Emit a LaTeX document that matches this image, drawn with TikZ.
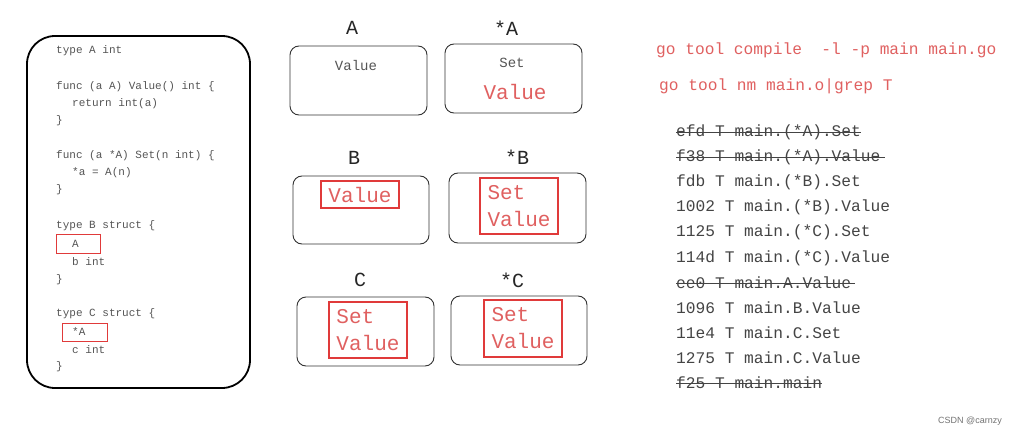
\documentclass[tikz,border=0pt]{standalone}
\usepackage{fontspec}
\setmonofont{Liberation Mono}
\setsansfont{Liberation Sans}
\begin{document}
\begin{tikzpicture}[x=1pt,y=-1pt]
\definecolor{codegray}{HTML}{555555}
\definecolor{txtgray}{HTML}{444444}
\definecolor{cmdred}{HTML}{E06060}
\definecolor{boxred}{HTML}{E03A3A}
\definecolor{edge}{HTML}{333333}
\tikzset{
  code/.style={anchor=west, inner sep=0pt, text=codegray, font=\ttfamily\fontsize{11}{12}\selectfont},
  tbox/.style={draw=edge, line width=0.9pt, rounded corners=9pt, inner sep=0pt},
  tlabel/.style={inner sep=0pt, text=black!85, font=\ttfamily\fontsize{20}{22}\selectfont},
  small/.style={inner sep=0pt, text=codegray, font=\ttfamily\fontsize{14}{16}\selectfont},
  redv/.style={inner sep=2pt, text=cmdred, align=left, font=\ttfamily\fontsize{21}{27}\selectfont},
  redbox/.style={draw=boxred, line width=1.4pt},
  cmd/.style={anchor=west, inner sep=0pt, text=cmdred, font=\ttfamily\fontsize{16.2}{18}\selectfont},
  sym/.style={anchor=west, inner sep=0pt, text=txtgray, font=\ttfamily\fontsize{16.2}{18}\selectfont},
  strike/.style={draw=txtgray, line width=1pt}
}
\useasboundingbox (0,0) rectangle (1031,436);
\fill[white] (0,0) rectangle (1031,436);

% left code panel
\draw[draw=black, line width=1.8pt, rounded corners=28pt] (27,36) rectangle (250,388);
\node[code] (c1) at (56,51) {type A int};
\node[code] (c2) at (56,87) {func (a A) Value() int \{};
\node[code] (c3) at (72,104) {return int(a)};
\node[code] (c4) at (56,121) {\}};
\node[code] (c5) at (56,156) {func (a *A) Set(n int) \{};
\node[code] (c6) at (72,173) {*a = A(n)};
\node[code] (c7) at (56,190) {\}};
\node[code] (c8) at (56,226) {type B struct \{};
\node[code] (c9) at (72,244) {A};
\node[code] (c10) at (72,262) {b int};
\node[code] (c11) at (56,280) {\}};
\node[code] (c12) at (56,314) {type C struct \{};
\node[code] (c13) at (72,332) {*A};
\node[code] (c14) at (72,350) {c int};
\node[code] (c15) at (56,367) {\}};
\draw[draw=boxred, line width=0.9pt] (56,234) rectangle (100,253);
\draw[draw=boxred, line width=0.9pt] (62,323) rectangle (107,341);

% method set boxes
\node[tlabel] (lA) at (352,28) {A};
\node[tbox, minimum width=137pt, minimum height=69pt] (bA) at (358.5,80.5) {};
\node[small] (vA) at (356,65) {Value};

\node[tlabel] (lpA) at (506,28) {*A};
\node[tbox, minimum width=137pt, minimum height=69pt] (bpA) at (513.5,78.5) {};
\node[small] (sA) at (512,63) {Set};
\node[redv] (vpA) at (515,92) {Value};

\node[tlabel] (lB) at (354,158) {B};
\node[tbox, minimum width=136pt, minimum height=68pt] (bB) at (361,210) {};
\node[redv, redbox, inner sep=1pt, minimum width=78pt, minimum height=27pt] (vB) at (360,194.5) {Value};

\node[tlabel] (lpB) at (517,157) {*B};
\node[tbox, minimum width=137pt, minimum height=70pt] (bpB) at (517.5,208) {};
\node[redv, redbox, minimum width=78pt, minimum height=56pt] (vpB) at (519,206) {Set\\Value};

\node[tlabel] (lC) at (360,280) {C};
\node[tbox, minimum width=137pt, minimum height=69pt] (bC) at (365.5,331.5) {};
\node[redv, redbox, minimum width=78pt, minimum height=56pt] (vC) at (368,330) {Set\\Value};

\node[tlabel] (lpC) at (512,280) {*C};
\node[tbox, minimum width=136pt, minimum height=69pt] (bpC) at (519,330.5) {};
\node[redv, redbox, minimum width=78pt, minimum height=57pt] (vpC) at (523,328.5) {Set\\Value};

% commands
\node[cmd] (k1) at (656,50) {go tool compile~~-l -p main main.go};
\node[cmd] (k2) at (659,86) {go tool nm main.o|grep T};

% symbol list
\node[sym] (s1) at (676,132) {efd T main.(*A).Set};
\node[sym] (s2) at (676,157) {f38 T main.(*A).Value};
\node[sym] (s3) at (676,182) {fdb T main.(*B).Set};
\node[sym] (s4) at (676,207) {1002 T main.(*B).Value};
\node[sym] (s5) at (676,232) {1125 T main.(*C).Set};
\node[sym] (s6) at (676,258) {114d T main.(*C).Value};
\node[sym] (s7) at (676,283) {ee0 T main.A.Value};
\node[sym] (s8) at (676,308) {1096 T main.B.Value};
\node[sym] (s9) at (676,333) {11e4 T main.C.Set};
\node[sym] (s10) at (676,358) {1275 T main.C.Value};
\node[sym] (s11) at (676,383) {f25 T main.main};
\draw[strike] (s1.west) -- (s1.east);
\draw[strike] (s2.west) -- ([xshift=4pt]s2.east);
\draw[strike] (s7.west) -- ([xshift=4pt]s7.east);
\draw[strike] (s11.west) -- (s11.east);

\node[inner sep=0pt, text=black!55, font=\sffamily\fontsize{9}{10}\selectfont] (wm) at (970,421) {CSDN @carnzy};
\end{tikzpicture}
\end{document}
